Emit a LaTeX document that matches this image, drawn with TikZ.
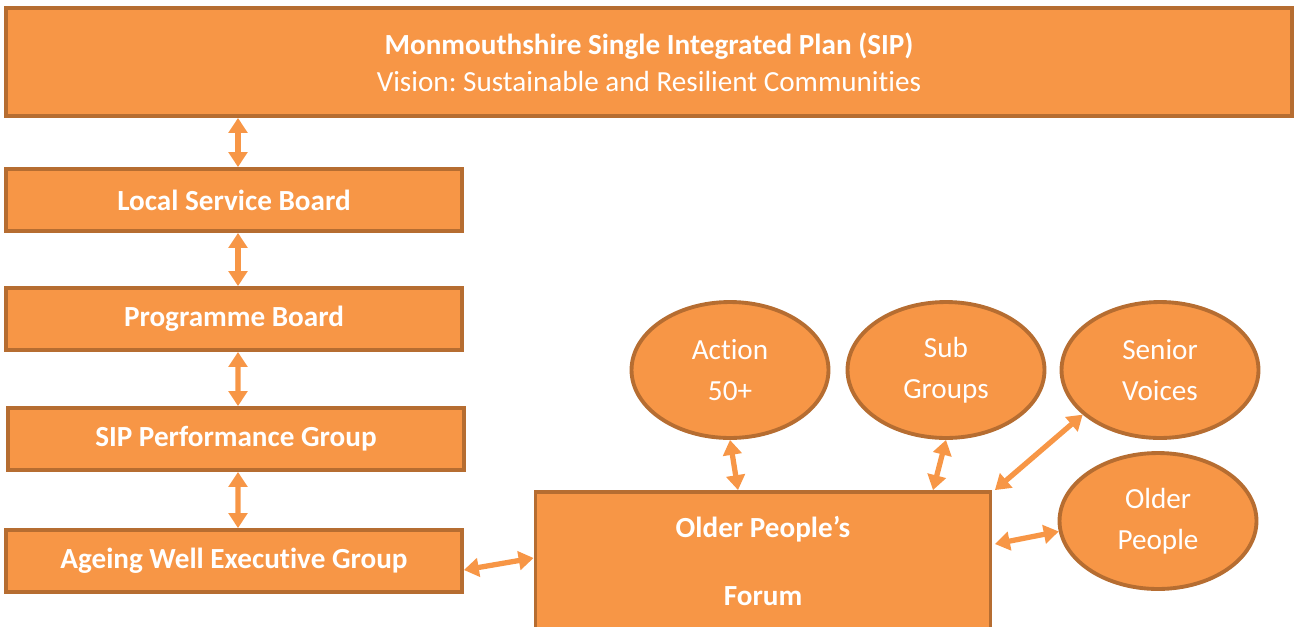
\documentclass[tikz,border=0pt]{standalone}
\usepackage{fontspec}
\setmainfont{Carlito}[RawFeature={-liga;-clig;-dlig;-calt}]
\frenchspacing
\usepackage{tikz}
\usetikzlibrary{arrows.meta, shapes.geometric, positioning}
\definecolor{orgfill}{HTML}{F79646}
\definecolor{orgline}{HTML}{B66D31}
\tikzset{>={Triangle[width=10.5pt,length=8.5pt]}}

\begin{document}
\begin{tikzpicture}[x=0.02cm, y=-0.02cm,
box/.style={draw=orgline, fill=orgfill, line width=2.2pt, text=white, inner sep=0pt,
  font=\bfseries\fontsize{16.6}{19}\selectfont, minimum width=9.12cm, minimum height=1.24cm},
blob/.style={ellipse, draw=orgline, fill=orgfill, line width=2.2pt, text=white, inner sep=0pt,
  align=center, font=\fontsize{16.6}{23.5}\selectfont, minimum width=3.94cm, minimum height=2.72cm},
link/.style={<->, color=orgfill, line width=3pt}]
\useasboundingbox (0,0) rectangle (1294,626);
\clip (0,0) rectangle (1294,626);

\node[box, minimum width=25.72cm, minimum height=2.16cm, align=center,
  font=\fontsize{16.6}{21}\selectfont] (sip) at (649,62)
  {\textbf{Monmouthshire Single Integrated Plan (SIP)}\\ Vision: Sustainable and Resilient Communities};
\node[box] (lsb) at (234,200) {Local Service Board};
\node[box] (prog) at (234,319) {Programme Board};
\node[box] (perf) at (236,439) {SIP Performance Group};
\node[box] (aweg) at (234,561) {Ageing Well Executive Group};
\node[box, minimum width=9.1cm, minimum height=2.76cm, align=center,
  font=\bfseries\fontsize{16.6}{39}\selectfont] (opf) at (763,561) {Older People’s\\Forum};

\node[blob] (act) at (730,370) {Action\\50+};
\node[blob] (sub) at (946,370) {Sub\\Groups};
\node[blob] (sen) at (1160,370) {Senior\\Voices};
\node[blob] (old) at (1158,521) {Older\\People};

\path[link]
([xshift=0.08cm]lsb.north) edge ([xshift=0.08cm]sip.south -| lsb.north)
([xshift=0.08cm]lsb.south) edge ([xshift=0.08cm]prog.north)
([xshift=0.08cm]prog.south) edge ([xshift=0.04cm]perf.north)
([xshift=0.04cm]perf.south) edge ([xshift=0.08cm]aweg.north)
([yshift=-0.18cm]aweg.east) edge ([yshift=0.06cm]opf.west)
([xshift=0.16cm]act.south |- opf.north) edge (act.south)
([xshift=-0.26cm]sub.south |- opf.north) edge (sub.south)
([xshift=0.05cm]opf.north east) edge (sen.210)
([xshift=0.05cm,yshift=0.34cm]opf.east) edge (old.186)
;
\end{tikzpicture}
\end{document}
